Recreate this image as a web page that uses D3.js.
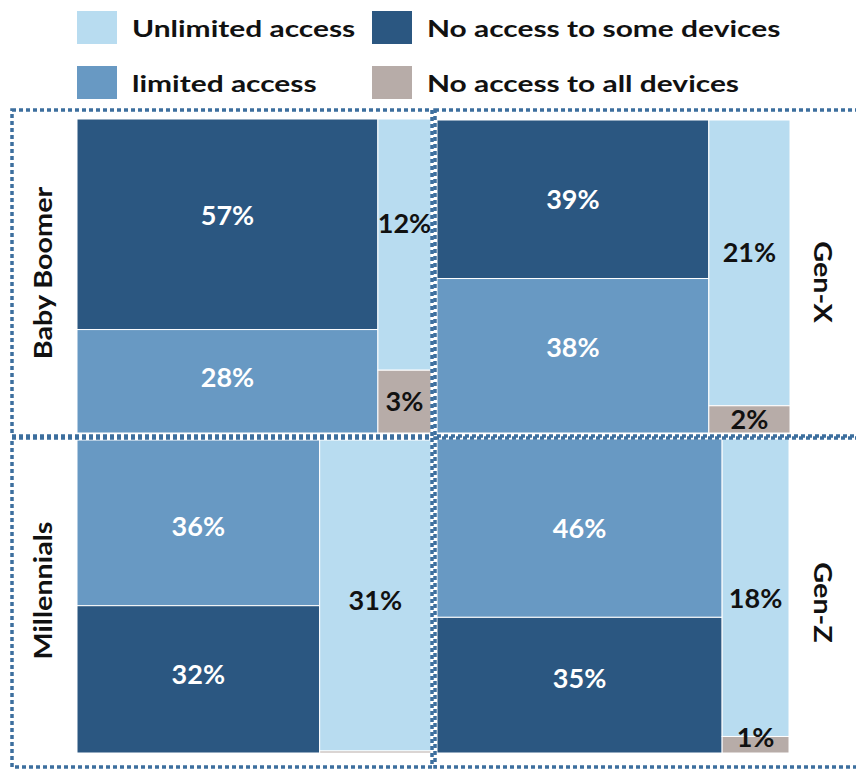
<!DOCTYPE html>
<html>
<head>
<meta charset="utf-8">
<script src="https://cdn.jsdelivr.net/npm/d3@7"></script>
<style>
  html, body { margin: 0; padding: 0; background: #fff; }
  svg { display: block; }
  text { font-family: Lato, "Open Sans", sans-serif; font-weight: 700; }
</style>
</head>
<body>
<svg id="chart" width="856" height="769"></svg>
<script>
// Device access by generation (share of respondents, %)
const generations = ["Baby Boomer", "Gen-X", "Millennials", "Gen-Z"];
const unlimitedAccess = [12, 21, 31, 18];
const limitedAccess = [28, 38, 36, 46];
const noAccessSome = [57, 39, 32, 35];
const noAccessAll = [3, 2, 0.2, 1];
// which segment sits on top of the left column in each panel
const leftTopSeries = ["noSome", "noSome", "limited", "limited"];

const seriesKeys = ["unlimited", "noSome", "limited", "noAll"];
const seriesNames = ["Unlimited access", "No access to some devices", "limited access", "No access to all devices"];
const colors = {
  unlimited: "#b8dcf0",
  limited: "#6899c3",
  noSome: "#2b5781",
  noAll: "#b7aca8"
};
const borderColor = "#3d6f9e";

// ---- layout ----
const frames = [
  { x0: 12, x1: 432, y0: 110, y1: 436 },
  { x0: 435, x1: 870, y0: 110, y1: 436 },
  { x0: 12, x1: 432, y0: 438, y1: 767 },
  { x0: 435, x1: 870, y0: 438, y1: 767 }
];
const areas = [
  { x0: 77, x1: 431, y0: 119, y1: 433 },
  { x0: 437, x1: 790, y0: 120, y1: 433 },
  { x0: 77, x1: 431, y0: 440, y1: 753 },
  { x0: 437, x1: 789, y0: 439, y1: 753 }
];
// hand-placed vertical nudges for the value labels (px), per panel
const labelNudge = [
  { noSome: -9, limited: -4, unlimited: -21, noAll: 0 },
  { noSome: 0, limited: -8, unlimited: -11, noAll: 0 },
  { noSome: -5, limited: 3, unlimited: 5, noAll: 0 },
  { noSome: -7, limited: 0, unlimited: 11, noAll: -7 }
];
// vertical shift of each generation's side label (px)
const genLabelShift = [0, 9, -12, 0];

const svg = d3.select("#chart");

// ---- legend ----
const legendPos = [
  { key: "unlimited", x: 77, y: 11 },
  { key: "noSome", x: 372, y: 11 },
  { key: "limited", x: 77, y: 66 },
  { key: "noAll", x: 372, y: 66 }
];
const legend = svg.append("g");
legendPos.forEach(p => {
  const g = legend.append("g").attr("transform", `translate(${p.x},${p.y})`);
  g.append("rect").attr("width", 40).attr("height", 33).attr("fill", colors[p.key]);
  g.append("text")
    .attr("transform", "translate(55,26) scale(1.36,1)")
    .attr("font-size", 22)
    .attr("fill", "#111")
    .text(seriesNames[seriesKeys.indexOf(p.key)]);
});

// ---- panels ----
generations.forEach((gen, i) => {
  const vals = {
    unlimited: unlimitedAccess[i],
    limited: limitedAccess[i],
    noSome: noAccessSome[i],
    noAll: noAccessAll[i]
  };
  const leftKeys = leftTopSeries[i] === "noSome" ? ["noSome", "limited"] : ["limited", "noSome"];
  const rightKeys = ["unlimited", "noAll"];
  const leftSum = d3.sum(leftKeys, k => vals[k]);
  const rightSum = d3.sum(rightKeys, k => vals[k]);
  const a = areas[i];

  const x = d3.scaleLinear().domain([0, leftSum + rightSum]).range([a.x0, a.x1]);
  const columns = [
    { keys: leftKeys, start: 0, sum: leftSum, labelColor: "#fff" },
    { keys: rightKeys, start: leftSum, sum: rightSum, labelColor: "#111" }
  ];

  const g = svg.append("g");
  columns.forEach(col => {
    const y = d3.scaleLinear().domain([0, col.sum]).range([a.y0, a.y1]);
    const stack = d3.cumsum(col.keys, k => vals[k]);
    const cells = col.keys.map((k, j) => ({
      key: k, value: vals[k],
      x0: x(col.start), x1: x(col.start + col.sum),
      y0: y(j === 0 ? 0 : stack[j - 1]), y1: y(stack[j])
    }));
    g.selectAll(null).data(cells).join("rect")
      .attr("x", d => d.x0).attr("y", d => d.y0)
      .attr("width", d => d.x1 - d.x0).attr("height", d => d.y1 - d.y0)
      .attr("fill", d => colors[d.key])
      .attr("stroke", "#fff").attr("stroke-width", 1);
    g.selectAll(null).data(cells.filter(d => d.value >= 1)).join("text")
      .attr("x", d => (d.x0 + d.x1) / 2)
      .attr("y", d => (d.y0 + d.y1) / 2 + labelNudge[i][d.key])
      .attr("dy", "0.36em")
      .attr("text-anchor", "middle")
      .attr("font-size", 27)
      .attr("fill", col.labelColor)
      .text(d => `${d.value}%`);
  });

  // dotted frame
  const f = frames[i];
  svg.append("rect")
    .attr("x", f.x0).attr("y", f.y0)
    .attr("width", f.x1 - f.x0).attr("height", f.y1 - f.y0)
    .attr("fill", "none")
    .attr("stroke", borderColor)
    .attr("stroke-width", 3.5)
    .attr("stroke-dasharray", "4,3");

  // generation label, rotated along the outer side of the panel
  const left = i % 2 === 0;
  const cy = (f.y0 + f.y1) / 2 + genLabelShift[i];
  const lx = left ? 43 : 823;
  svg.append("text")
    .attr("transform", `translate(${lx},${cy}) rotate(${left ? -90 : 90}) scale(1.15,1)`)
    .attr("text-anchor", "middle")
    .attr("dy", "0.36em")
    .attr("font-size", 25)
    .attr("fill", "#111")
    .text(gen);
});
</script>
</body>
</html>
